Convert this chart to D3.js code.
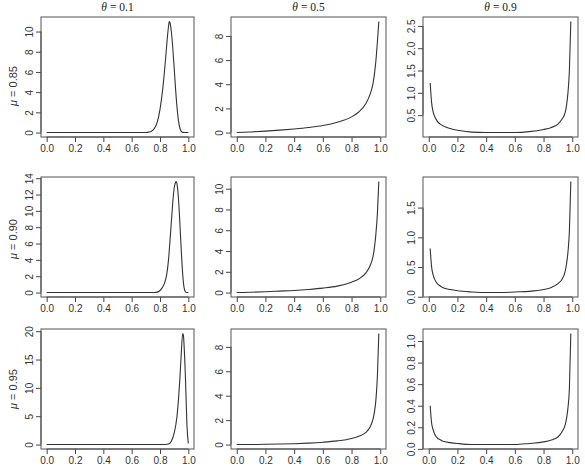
<!DOCTYPE html>
<html>
<head>
<meta charset="utf-8">
<script src="https://cdn.jsdelivr.net/npm/d3@7"></script>
<style>
  body { margin: 0; background: #fff; }
  svg { display: block; }
  .tick-label { font-family: "Liberation Sans", Arial, sans-serif; font-size: 10px; fill: #333; }
  .col-title { font-family: "Liberation Serif", "Times New Roman", serif; font-size: 11.5px; fill: #222; }
  .row-title { font-family: "Liberation Sans", Arial, sans-serif; font-size: 11px; fill: #333; }
</style>
</head>
<body>
<svg id="chart"></svg>
<script>
// column / row parameters
const thetas = ["0.1", "0.5", "0.9"];
const mus = ["0.85", "0.90", "0.95"];

// x tick labels, shared by all panels
const xTicks = [0, 0.2, 0.4, 0.6, 0.8, 1.0];

// mu = 0.85
const x85t1 = [0, 0.60, 0.70, 0.72, 0.74, 0.76, 0.78, 0.80, 0.82, 0.84, 0.85, 0.86, 0.865, 0.87, 0.88, 0.89, 0.90, 0.91, 0.92, 0.93, 0.94, 0.95, 0.96, 0.98, 1.0];
const y85t1 = [0, 0, 0.01, 0.04, 0.13, 0.4, 1.0, 2.3, 4.4, 7.4, 9.1, 10.5, 11.0, 10.9, 10.0, 8.4, 6.4, 4.3, 2.5, 1.2, 0.45, 0.12, 0.02, 0, 0];
const x85t5 = [0, 0.05, 0.1, 0.2, 0.3, 0.4, 0.5, 0.6, 0.7, 0.8, 0.85, 0.9, 0.93, 0.95, 0.96, 0.97, 0.98, 0.99];
const y85t5 = [0, 0.02, 0.05, 0.12, 0.2, 0.3, 0.42, 0.58, 0.85, 1.3, 1.7, 2.4, 3.2, 4.1, 4.9, 6.0, 7.5, 9.2];
const x85t9 = [0.01, 0.02, 0.03, 0.04, 0.06, 0.08, 0.1, 0.15, 0.2, 0.3, 0.4, 0.5, 0.6, 0.7, 0.8, 0.85, 0.9, 0.93, 0.95, 0.96, 0.97, 0.98, 0.99];
const y85t9 = [1.22, 0.78, 0.58, 0.48, 0.36, 0.3, 0.26, 0.2, 0.16, 0.12, 0.11, 0.11, 0.11, 0.13, 0.18, 0.22, 0.3, 0.42, 0.55, 0.72, 1.0, 1.5, 2.6];

// mu = 0.90
const x90t1 = [0, 0.70, 0.76, 0.78, 0.80, 0.82, 0.84, 0.85, 0.86, 0.87, 0.88, 0.89, 0.90, 0.91, 0.915, 0.92, 0.93, 0.94, 0.95, 0.96, 0.97, 0.98, 0.99, 1.0];
const y90t1 = [0, 0, 0.01, 0.05, 0.25, 0.7, 1.6, 2.5, 4.0, 6.2, 8.6, 11.0, 12.8, 13.5, 13.6, 13.3, 11.6, 8.6, 5.2, 2.3, 0.6, 0.08, 0, 0];
const x90t5 = [0, 0.05, 0.1, 0.2, 0.3, 0.4, 0.5, 0.6, 0.7, 0.8, 0.85, 0.9, 0.93, 0.95, 0.96, 0.97, 0.98, 0.99];
const y90t5 = [0, 0.01, 0.03, 0.08, 0.14, 0.2, 0.3, 0.43, 0.62, 1.0, 1.3, 1.9, 2.6, 3.5, 4.4, 5.7, 7.6, 10.7];
const x90t9 = [0.01, 0.02, 0.03, 0.04, 0.06, 0.08, 0.1, 0.15, 0.2, 0.3, 0.4, 0.5, 0.6, 0.7, 0.8, 0.85, 0.9, 0.93, 0.95, 0.96, 0.97, 0.98, 0.99];
const y90t9 = [0.81, 0.5, 0.37, 0.3, 0.22, 0.18, 0.15, 0.12, 0.1, 0.08, 0.07, 0.07, 0.08, 0.09, 0.12, 0.15, 0.22, 0.3, 0.42, 0.55, 0.75, 1.1, 1.94];

// mu = 0.95
const x95t1 = [0, 0.80, 0.84, 0.86, 0.88, 0.90, 0.92, 0.93, 0.94, 0.95, 0.96, 0.965, 0.97, 0.98, 0.99, 1.0];
const y95t1 = [0, 0, 0.02, 0.1, 0.6, 2.0, 5.0, 7.8, 11.5, 16.0, 19.6, 19.3, 17.5, 11.5, 3.5, 0.2];
const x95t5 = [0, 0.1, 0.2, 0.3, 0.4, 0.5, 0.6, 0.7, 0.8, 0.85, 0.9, 0.93, 0.95, 0.96, 0.97, 0.98, 0.99];
const y95t5 = [0, 0.005, 0.02, 0.04, 0.07, 0.12, 0.19, 0.3, 0.5, 0.68, 1.0, 1.45, 2.1, 2.7, 3.7, 5.6, 9.1];
const x95t9 = [0.01, 0.02, 0.03, 0.04, 0.06, 0.08, 0.1, 0.15, 0.2, 0.3, 0.4, 0.5, 0.6, 0.7, 0.8, 0.85, 0.9, 0.93, 0.95, 0.96, 0.97, 0.98, 0.99];
const y95t9 = [0.40, 0.24, 0.18, 0.14, 0.1, 0.085, 0.07, 0.058, 0.05, 0.04, 0.04, 0.04, 0.04, 0.05, 0.065, 0.08, 0.11, 0.16, 0.22, 0.28, 0.38, 0.56, 1.07];

// y tick labels per panel
const yTicks85 = [[0, 2, 4, 6, 8, 10], [0, 2, 4, 6, 8], ["0.5", "1.0", "1.5", "2.0", "2.5"]];
const yTicks90 = [[0, 2, 4, 6, 8, 10, 12, 14], [0, 2, 4, 6, 8, 10], ["0.0", "0.5", "1.0", "1.5"]];
const yTicks95 = [[0, 5, 10, 15, 20], [0, 2, 4, 6, 8], ["0.0", "0.2", "0.4", "0.6", "0.8", "1.0"]];

const width = 585;
const height = 470;
const colLeft = [41, 231, 423];
const colWidth = [153, 155, 155];
const rowTop = [17, 177, 329];
const boxHeight = 120;
const rowLabelY = [86, 239, 389];

const panels = [
  { row: 0, col: 0, x: x85t1, y: y85t1, ticks: yTicks85[0] },
  { row: 0, col: 1, x: x85t5, y: y85t5, ticks: yTicks85[1] },
  { row: 0, col: 2, x: x85t9, y: y85t9, ticks: yTicks85[2] },
  { row: 1, col: 0, x: x90t1, y: y90t1, ticks: yTicks90[0] },
  { row: 1, col: 1, x: x90t5, y: y90t5, ticks: yTicks90[1] },
  { row: 1, col: 2, x: x90t9, y: y90t9, ticks: yTicks90[2] },
  { row: 2, col: 0, x: x95t1, y: y95t1, ticks: yTicks95[0] },
  { row: 2, col: 1, x: x95t5, y: y95t5, ticks: yTicks95[1] },
  { row: 2, col: 2, x: x95t9, y: y95t9, ticks: yTicks95[2] }
];

const svg = d3.select("#chart").attr("width", width).attr("height", height);
svg.append("rect").attr("width", width).attr("height", height).attr("fill", "#fff");

// R-style axis range: data range padded 4% on each side
const padded = (ext) => {
  const r = ext[1] - ext[0];
  return [ext[0] - 0.04 * r, ext[1] + 0.04 * r];
};

panels.forEach((p) => {
  const left = colLeft[p.col];
  const top = rowTop[p.row];
  const w = colWidth[p.col];

  const xScale = d3.scaleLinear().domain([-0.04, 1.04]).range([left, left + w]);
  const yScale = d3.scaleLinear().domain(padded(d3.extent(p.y))).range([top + boxHeight, top]);

  const pts = p.x.map((d, i) => [d, p.y[i]]);
  const g = svg.append("g");

  // x axis
  const xAxis = g.append("g")
    .attr("transform", `translate(0, ${top + boxHeight})`)
    .call(d3.axisBottom(xScale).tickValues(xTicks).tickSize(5).tickPadding(3).tickFormat(d3.format(".1f")));
  xAxis.select(".domain").attr("d", `M${xScale(0)},0H${xScale(1)}`);
  xAxis.selectAll("line, path").attr("stroke", "#444");
  xAxis.selectAll("text").attr("class", "tick-label").attr("fill", null).attr("font-size", null).attr("font-family", null);

  // y axis, labels turned as in R
  const tickVals = p.ticks.map(Number);
  const yAxis = g.append("g")
    .attr("transform", `translate(${left}, 0)`)
    .call(d3.axisLeft(yScale).tickValues(tickVals).tickSize(5).tickFormat((d, i) => String(p.ticks[i])));
  yAxis.select(".domain").attr("d", `M0,${yScale(tickVals[0])}V${yScale(tickVals[tickVals.length - 1])}`);
  yAxis.selectAll("line, path").attr("stroke", "#444");
  yAxis.selectAll("text")
    .attr("class", "tick-label")
    .attr("fill", null).attr("font-size", null).attr("font-family", null)
    .attr("x", null).attr("dy", null)
    .attr("text-anchor", "middle")
    .attr("dominant-baseline", "central")
    .attr("transform", "translate(-12,0) rotate(-90)");

  // box
  g.append("rect")
    .attr("x", left).attr("y", top)
    .attr("width", w).attr("height", boxHeight)
    .attr("fill", "none").attr("stroke", "#555").attr("stroke-width", 1);

  // density curve
  g.append("path")
    .datum(pts)
    .attr("fill", "none")
    .attr("stroke", "#333")
    .attr("stroke-width", 1.1)
    .attr("d", d3.line().x((d) => xScale(d[0])).y((d) => yScale(d[1])).curve(d3.curveMonotoneX));
});

// column titles
svg.selectAll(".col-title")
  .data(thetas)
  .join("text")
  .attr("class", "col-title")
  .attr("x", (d, i) => colLeft[i] + colWidth[i] / 2)
  .attr("y", 11)
  .attr("text-anchor", "middle")
  .each(function (d) {
    const t = d3.select(this);
    t.append("tspan").attr("font-style", "italic").text("θ");
    t.append("tspan").text(" = " + d);
  });

// row titles
svg.selectAll(".row-title")
  .data(mus)
  .join("text")
  .attr("class", "row-title")
  .attr("transform", (d, i) => `translate(13, ${rowLabelY[i]}) rotate(-90)`)
  .attr("text-anchor", "middle")
  .attr("dominant-baseline", "central")
  .each(function (d) {
    const t = d3.select(this);
    t.append("tspan").attr("font-style", "italic").text("μ");
    t.append("tspan").text(" = " + d);
  });
</script>
</body>
</html>
